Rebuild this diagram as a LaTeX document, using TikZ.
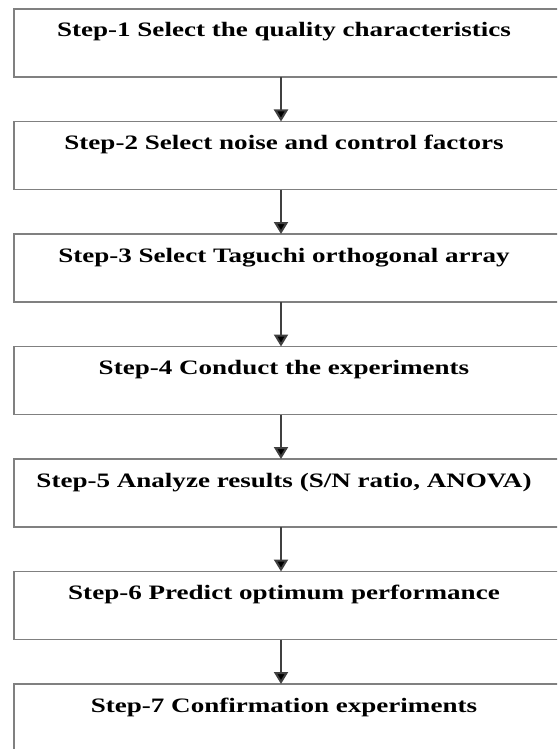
\documentclass[tikz,border=0pt]{standalone}
\usepackage{fontspec}
\setmainfont{Liberation Serif}
\newfontfamily\stepfont[FakeStretch=1.32]{Liberation Serif}
\usetikzlibrary{positioning,calc,arrows.meta}
\tikzstyle{stepbox}=[rectangle,draw=black!50,line width=1.6pt,minimum width=620pt,minimum height=68pt,inner sep=0pt,outer sep=0pt]
\tikzstyle{steptext}=[anchor=base,inner sep=0pt,font=\stepfont\bfseries\fontsize{20.5}{24}\selectfont]
\tikzstyle{flow}=[draw=black!75,line width=2pt,-{Triangle[length=12pt,width=14pt,fill=black]}]
\newcommand{\drawflow}[1]{
	\foreach \a/\b in {#1}{
		\draw[flow] (axis |- \a.south) -- (axis |- \b.north);
	}
}

\begin{document}
\begin{tikzpicture}
\useasboundingbox (0,0) rectangle (557pt,-749pt);
\clip (0,0) rectangle (557pt,-749pt);
\coordinate (axis) at (281pt,0);

% the seven steps
\node[stepbox,anchor=north west] (s1) at (14pt,-9pt) {};
\node[stepbox,below=44.5pt of s1] (s2) {};
\node[stepbox,below=44.5pt of s2] (s3) {};
\node[stepbox,below=44.5pt of s3] (s4) {};
\node[stepbox,below=44.5pt of s4] (s5) {};
\node[stepbox,below=44.5pt of s5] (s6) {};
\node[stepbox,below=44.5pt of s6] (s7) {};

\node[steptext] (t1) at ($(s1.north west)+(270pt,-28pt)$) {Step-1 Select the quality characteristics};
\node[steptext] (t2) at ($(s2.north west)+(270pt,-28pt)$) {Step-2 Select noise and control factors};
\node[steptext] (t3) at ($(s3.north west)+(270pt,-28pt)$) {Step-3 Select Taguchi orthogonal array};
\node[steptext] (t4) at ($(s4.north west)+(270pt,-28pt)$) {Step-4 Conduct the experiments};
\node[steptext] (t5) at ($(s5.north west)+(270pt,-28pt)$) {Step-5 Analyze results (S/N ratio, ANOVA)};
\node[steptext] (t6) at ($(s6.north west)+(270pt,-28pt)$) {Step-6 Predict optimum performance};
\node[steptext] (t7) at ($(s7.north west)+(270pt,-28pt)$) {Step-7 Confirmation experiments};

\drawflow{s1/s2,s2/s3,s3/s4,s4/s5,s5/s6,s6/s7}
\end{tikzpicture}
\end{document}
